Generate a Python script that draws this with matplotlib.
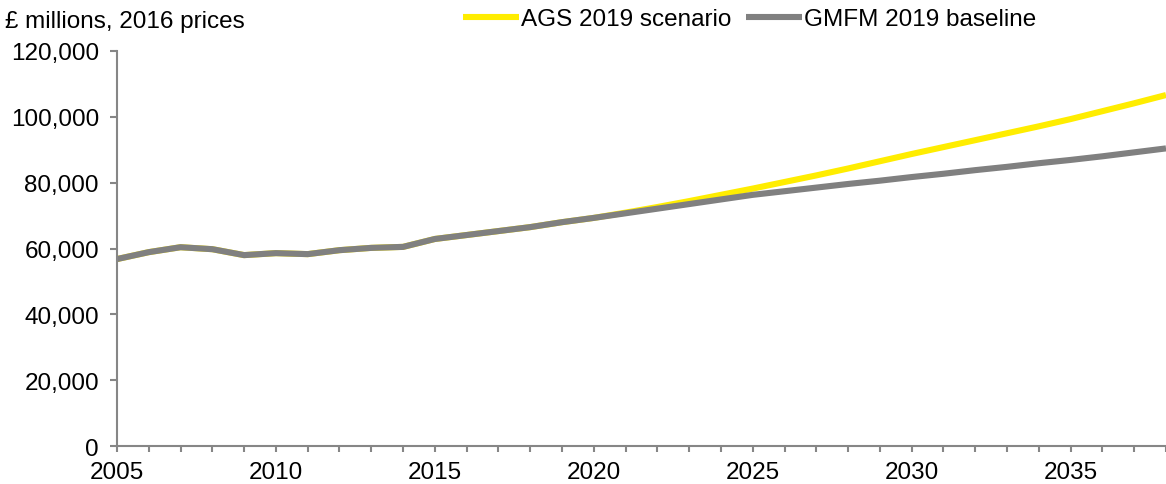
import matplotlib

matplotlib.use("Agg")
import matplotlib.pyplot as plt
from matplotlib.ticker import FuncFormatter, MultipleLocator

plt.rcParams["font.family"] = ["Liberation Sans", "DejaVu Sans"]

years = list(range(2005, 2039))

# GMFM 2019 baseline, £ millions (2016 prices)
gmfm_baseline = [
    56800, 58900, 60400, 59800, 58000, 58600, 58300, 59500, 60200, 60500,
    62900, 64100, 65300, 66500, 68000, 69300, 70700, 72100, 73500, 74900,
    76300, 77400, 78500, 79600, 80600, 81700, 82700, 83800, 84800, 85900,
    86900, 88000, 89200, 90400,
]

# AGS 2019 scenario, £ millions (2016 prices)
ags_scenario = [
    56800, 58900, 60400, 59800, 58000, 58600, 58300, 59500, 60200, 60500,
    62900, 64100, 65300, 66500, 68000, 69300, 70900, 72600, 74400, 76300,
    78200, 80200, 82200, 84300, 86500, 88700, 90800, 92900, 95000, 97100,
    99300, 101700, 104100, 106600,
]

axis_grey = "#868686"
fs = 17.5

fig = plt.figure(figsize=(11.66, 4.85), dpi=100)
ax = fig.add_axes([0.1003, 0.078, 0.8997, 0.815])

ax.plot(years, ags_scenario, color="#FFED00", lw=4.4, solid_capstyle="butt", label="AGS 2019 scenario")
ax.plot(years, gmfm_baseline, color="#808080", lw=4.4, solid_capstyle="butt", label="GMFM 2019 baseline")

ax.set_xlim(2005, 2038)
ax.set_ylim(0, 120000)
ax.xaxis.set_major_locator(MultipleLocator(5))
ax.xaxis.set_minor_locator(MultipleLocator(1))
ax.yaxis.set_major_locator(MultipleLocator(20000))
ax.yaxis.set_major_formatter(FuncFormatter(lambda v, _: f"{v:,.0f}"))

for side in ("top", "right"):
    ax.spines[side].set_visible(False)
for side in ("left", "bottom"):
    ax.spines[side].set_color(axis_grey)
    ax.spines[side].set_linewidth(1.5)

ax.tick_params(axis="both", which="both", direction="out", color=axis_grey, width=1.5, labelsize=fs, labelcolor="black")
ax.tick_params(axis="y", which="major", length=5, pad=8)
ax.tick_params(axis="x", which="both", length=4, pad=7)

fig.text(0.004, 0.955, "£ millions, 2016 prices", fontsize=fs, va="center", ha="left")

fig.legend(
    loc="center",
    bbox_to_anchor=(0.643, 0.958),
    ncol=2,
    frameon=False,
    fontsize=fs,
    handlelength=2.3,
    handletextpad=0.1,
    columnspacing=0.6,
)

fig.savefig("out.png", dpi=100)
